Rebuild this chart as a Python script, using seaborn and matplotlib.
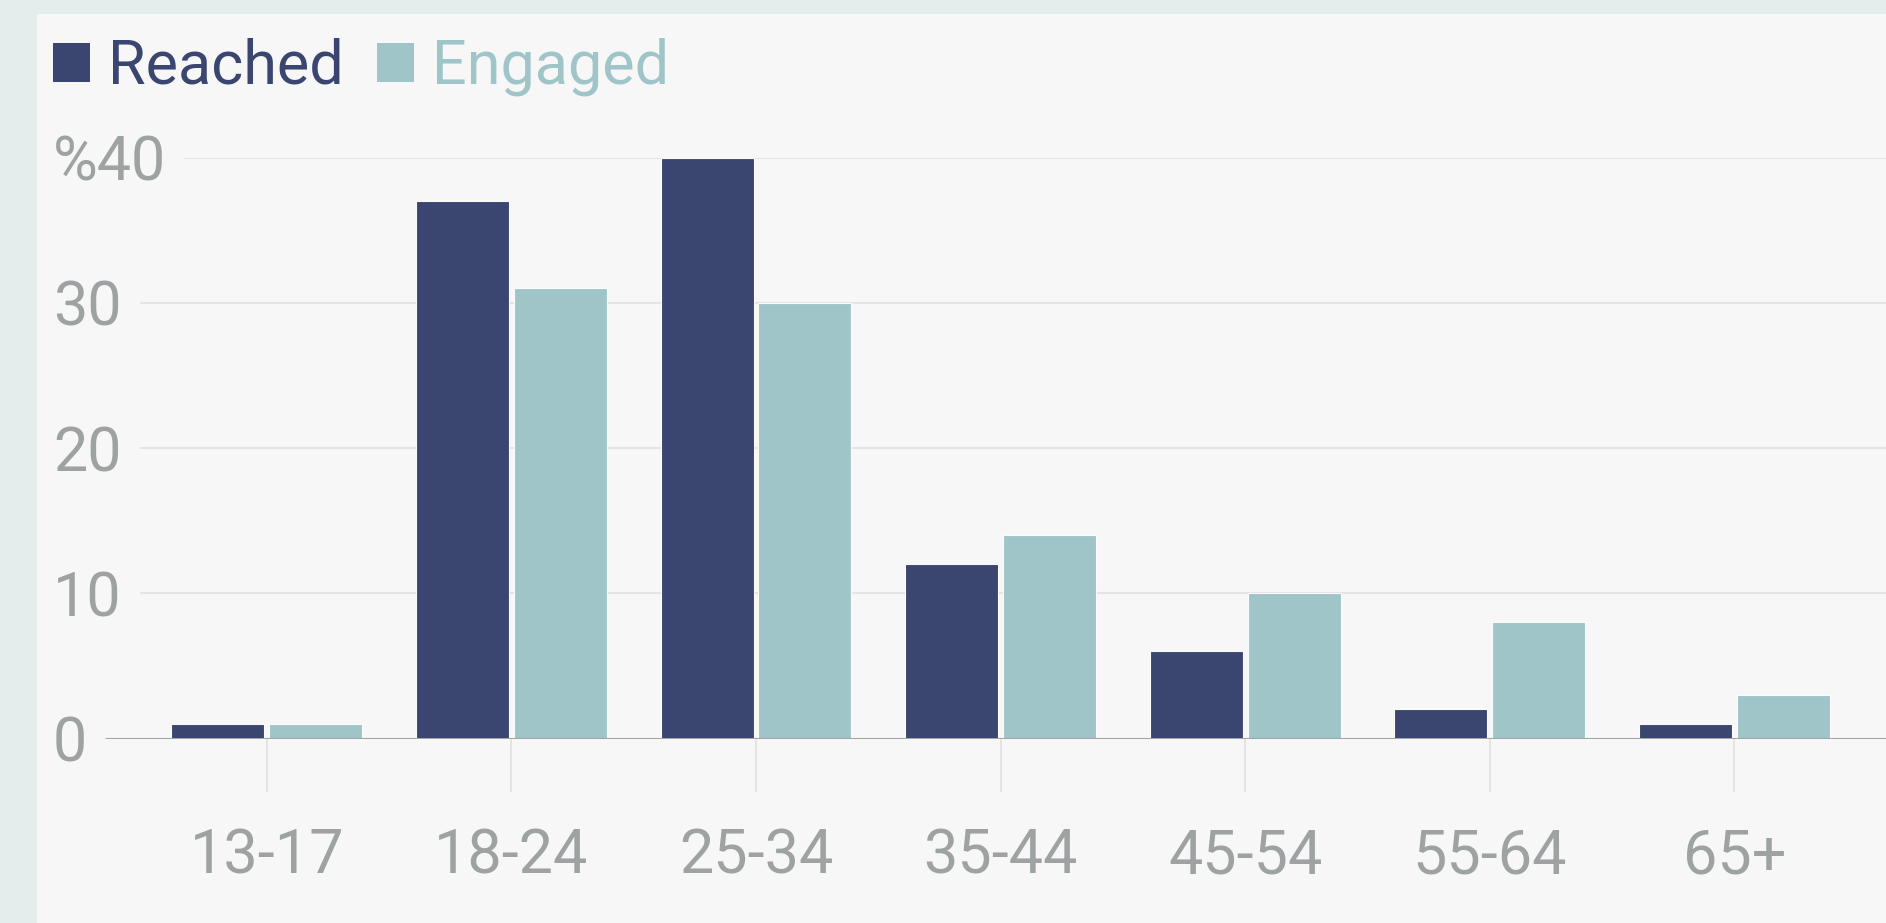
import matplotlib
matplotlib.use("Agg")
import matplotlib.pyplot as plt
import seaborn as sns
import pandas as pd
from matplotlib.patches import Rectangle, Patch

# Audience share by age group (percent)
age_groups = ["13-17", "18-24", "25-34", "35-44", "45-54", "55-64", "65+"]
reached = [1, 37, 40, 12, 6, 2, 1]
engaged = [1, 31, 30, 14, 10, 8, 3]
series_names = ["Reached", "Engaged"]
y_ticks = [0, 10, 20, 30, 40]
y_tick_labels = ["0", "10", "20", "30", "%40"]

NAVY = "#3a4670"
TEAL = "#9fc5c9"
TEXT = "#9fa2a2"
OUTER = "#e5ecec"
PANEL = "#f7f7f7"
GRID = "#e4e4e4"
BASE = "#a3a5a5"
FS = 44

df = pd.DataFrame({
    "age": age_groups * 2,
    "share": reached + engaged,
    "metric": [series_names[0]] * len(age_groups) + [series_names[1]] * len(age_groups),
})

sns.set_theme(style="white")
plt.rcParams["font.family"] = ["Liberation Sans Narrow", "Roboto", "DejaVu Sans"]

W, H = 1886, 923
fig = plt.figure(figsize=(W / 100, H / 100), dpi=100, facecolor=OUTER)
fig.patches.append(Rectangle((37 / W, 0), 1 - 37 / W, 1 - 14 / H,
                             transform=fig.transFigure, facecolor=PANEL,
                             edgecolor="none", zorder=-10))

ax = fig.add_axes([103 / W, (H - 738.5) / H, 1 - 103 / W, (738.5 - 157.6) / H])
ax.set_facecolor("none")

sns.barplot(data=df, x="age", y="share", hue="metric", order=age_groups,
            hue_order=series_names, palette=[NAVY, TEAL], width=0.8, gap=0.05,
            saturation=1, edgecolor="#fbfbfb", linewidth=0.8, ax=ax)

ax.set_xlim(-0.67, 6.62)
ax.set_ylim(0, 40)
ax.set_xlabel("")
ax.set_ylabel("")
for s in ax.spines.values():
    s.set_visible(False)

ax.set_yticks(y_ticks)
ax.set_yticklabels(y_tick_labels)
ax.tick_params(axis="y", left=False, length=0, pad=36, labelsize=FS, labelcolor=TEXT)
for lbl in ax.get_yticklabels():
    lbl.set_ha("left")
ax.tick_params(axis="x", bottom=True, direction="out", length=38, width=1.4,
               color=GRID, pad=26, labelsize=FS, labelcolor=TEXT)

# legend with coloured labels
ax.get_legend().remove()
handles = [Patch(facecolor=NAVY, edgecolor="none"), Patch(facecolor=TEAL, edgecolor="none")]
leg = fig.legend(handles, series_names, loc="upper left",
                 bbox_to_anchor=(53 / W, 1 - 38 / H), ncol=2, frameon=False,
                 fontsize=FS, handlelength=0.6, handleheight=0.6,
                 handletextpad=0.3, columnspacing=0.55, borderpad=0,
                 borderaxespad=0)
for txt, c in zip(leg.get_texts(), [NAVY, TEAL]):
    txt.set_color(c)

# horizontal rules start just right of each value label
fig.canvas.draw()
renderer = fig.canvas.get_renderer()
abox = ax.get_window_extent(renderer)
for val, lbl in zip(ax.get_yticks(), ax.get_yticklabels()):
    bb = lbl.get_window_extent(renderer)
    start = max(0.0, (bb.x1 + 19 - abox.x0) / abox.width)
    if val == 0:
        ax.axhline(val, xmin=start, xmax=1, color=BASE, lw=2.2, zorder=3)
    else:
        ax.axhline(val, xmin=start, xmax=1, color=GRID, lw=1.5, zorder=0.5)

fig.savefig("out.png", dpi=100, facecolor=OUTER)
